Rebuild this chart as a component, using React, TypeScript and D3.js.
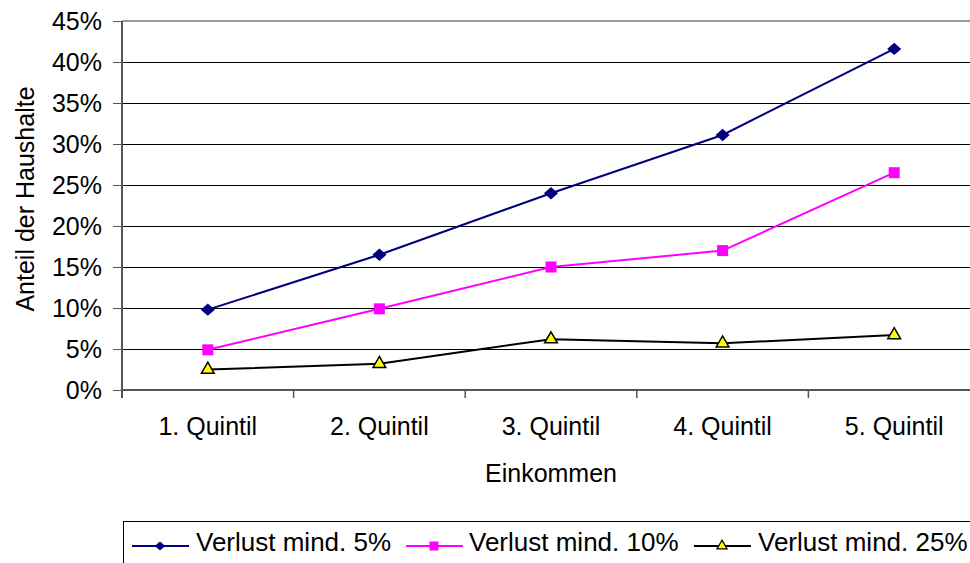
import { useMemo } from "react";
import { scaleLinear, scaleBand, line, symbol, symbolSquare, symbolTriangle, SymbolType } from "d3";

const categories = ["1. Quintil", "2. Quintil", "3. Quintil", "4. Quintil", "5. Quintil"];
const verlust5 = [9.8, 16.5, 24.0, 31.1, 41.6];
const verlust10 = [4.9, 9.9, 15.0, 17.0, 26.5];
const verlust25 = [2.5, 3.2, 6.2, 5.7, 6.7];
const yTicks = [0, 5, 10, 15, 20, 25, 30, 35, 40, 45];

// wide diamond like the spreadsheet marker
const symbolWideDiamond: SymbolType = {
  draw(ctx, size) {
    const w = Math.sqrt(size) / 2;
    const h = w * 0.88;
    ctx.moveTo(0, -h);
    ctx.lineTo(w, 0);
    ctx.lineTo(0, h);
    ctx.lineTo(-w, 0);
    ctx.closePath();
  },
};

const series = [
  { name: "Verlust mind. 5%", values: verlust5, stroke: "#000080", fill: "#000080", shape: symbolWideDiamond, size: 200, legendSize: 110, mStroke: "none" },
  { name: "Verlust mind. 10%", values: verlust10, stroke: "#FF00FF", fill: "#FF00FF", shape: symbolSquare, size: 121, legendSize: 81, mStroke: "none" },
  { name: "Verlust mind. 25%", values: verlust25, stroke: "#000000", fill: "#FFFF00", shape: symbolTriangle, size: 70, legendSize: 45, mStroke: "#000000" },
];

const FONT = "'Liberation Sans', Arial, sans-serif";

export default function App() {
  const left = 122;
  const right = 980;
  const top = 21;
  const bottom = 390;

  const x = useMemo(() => scaleBand<string>().domain(categories).range([left, right]), []);
  const y = useMemo(() => scaleLinear().domain([0, 45]).range([bottom, top]), []);

  const cx = (c: string) => (x(c) ?? 0) + x.bandwidth() / 2;

  const lineFn = line<number>()
    .x((_, i) => cx(categories[i]))
    .y((d) => y(d));

  const legendItems = [
    { lx: 132, tx: 196 },
    { lx: 406, tx: 469 },
    { lx: 694, tx: 758 },
  ];
  const legendY = 546;

  return (
    <svg
      width={970}
      height={563}
      style={{ position: "absolute", left: 0, top: 0, background: "#fff" }}
      fontFamily={FONT}
    >
      <rect x={0} y={0} width={970} height={563} fill="#fff" />
      {/* gridlines */}
      {yTicks.map((t) => (
        <line
          key={t}
          x1={left}
          x2={right}
          y1={y(t)}
          y2={y(t)}
          stroke={t === 45 ? "#999" : "#000"}
          strokeWidth={t === 45 ? 2 : 1}
          shapeRendering="crispEdges"
        />
      ))}
      {/* y axis */}
      <line x1={left} x2={left} y1={top} y2={bottom + 8} stroke="#555" strokeWidth={2} shapeRendering="crispEdges" />
      {yTicks.map((t) => (
        <g key={"yt" + t}>
          <line x1={left - 9} x2={left} y1={y(t)} y2={y(t)} stroke="#555" strokeWidth={1} shapeRendering="crispEdges" />
          <text x={102} y={y(t)} dy="0.36em" textAnchor="end" fontSize={25} fill="#000">
            {t}%
          </text>
        </g>
      ))}
      {/* x axis */}
      <line x1={left} x2={right} y1={bottom} y2={bottom} stroke="#555" strokeWidth={2} shapeRendering="crispEdges" />
      {categories.map((c) => (
        <g key={c}>
          <line x1={x(c) ?? 0} x2={x(c) ?? 0} y1={bottom} y2={bottom + 8} stroke="#555" strokeWidth={1.5} />
          <text x={cx(c)} y={435} textAnchor="middle" fontSize={25} fill="#000">
            {c}
          </text>
        </g>
      ))}
      <text x={551} y={482} textAnchor="middle" fontSize={25} fill="#000">
        Einkommen
      </text>
      <text
        transform={`translate(34, 199) rotate(-90)`}
        textAnchor="middle"
        fontSize={25}
        fill="#000"
      >
        Anteil der Haushalte
      </text>
      {/* series */}
      {series.map((s) => (
        <g key={s.name}>
          <path d={lineFn(s.values) ?? ""} fill="none" stroke={s.stroke} strokeWidth={2} />
          {s.values.map((v, i) => (
            <path
              key={i}
              d={symbol().type(s.shape).size(s.size)() ?? ""}
              transform={`translate(${cx(categories[i])},${y(v)})`}
              fill={s.fill}
              stroke={s.mStroke}
              strokeWidth={1.5}
            />
          ))}
        </g>
      ))}
      {/* legend */}
      <rect x={123.5} y={521.5} width={860} height={60} fill="#fff" stroke="#000" strokeWidth={1} />
      {series.map((s, i) => {
        const li = legendItems[i];
        return (
          <g key={"lg" + s.name}>
            <line x1={li.lx} x2={li.lx + 57} y1={legendY} y2={legendY} stroke={s.stroke} strokeWidth={2} />
            <path
              d={symbol().type(s.shape).size(s.legendSize)() ?? ""}
              transform={`translate(${li.lx + 28},${legendY})`}
              fill={s.fill}
              stroke={s.mStroke}
              strokeWidth={1.2}
            />
            <text x={li.tx} y={551} fontSize={26} fill="#000">
              {s.name}
            </text>
          </g>
        );
      })}
    </svg>
  );
}
